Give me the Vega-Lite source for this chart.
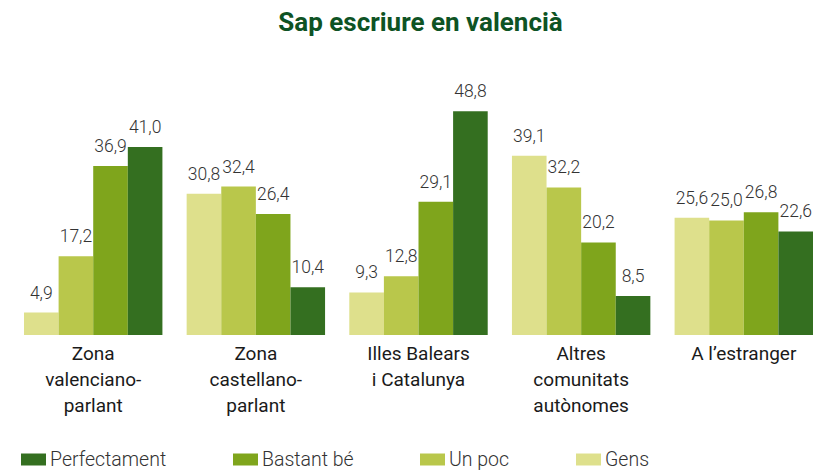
{
  "$schema": "https://vega.github.io/schema/vega-lite/v6.json",
  "width": 821,
  "height": 275,
  "autosize": {"type": "none"},
  "padding": {"left": 0, "right": 0, "top": 60, "bottom": 135},
  "title": {
    "text": "Sap escriure en valencià",
    "font": "Roboto",
    "fontSize": 26,
    "fontWeight": "bold",
    "color": "#0E5324",
    "anchor": "middle",
    "offset": 24,
    "dx": 10
  },
  "config": {
    "locale": {"number": {"decimal": ",", "thousands": ".", "grouping": [3], "currency": ["", " €"]}},
    "view": {"stroke": null},
    "font": "Roboto"
  },
  "data": {
    "values": [
      {"region": "Zona|valenciano-|parlant", "level": "Gens", "value": 4.9},
      {"region": "Zona|valenciano-|parlant", "level": "Un poc", "value": 17.2},
      {"region": "Zona|valenciano-|parlant", "level": "Bastant bé", "value": 36.9},
      {"region": "Zona|valenciano-|parlant", "level": "Perfectament", "value": 41.0},
      {"region": "Zona|castellano-|parlant", "level": "Gens", "value": 30.8},
      {"region": "Zona|castellano-|parlant", "level": "Un poc", "value": 32.4},
      {"region": "Zona|castellano-|parlant", "level": "Bastant bé", "value": 26.4},
      {"region": "Zona|castellano-|parlant", "level": "Perfectament", "value": 10.4},
      {"region": "Illes Balears|i Catalunya", "level": "Gens", "value": 9.3},
      {"region": "Illes Balears|i Catalunya", "level": "Un poc", "value": 12.8},
      {"region": "Illes Balears|i Catalunya", "level": "Bastant bé", "value": 29.1},
      {"region": "Illes Balears|i Catalunya", "level": "Perfectament", "value": 48.8},
      {"region": "Altres|comunitats|autònomes", "level": "Gens", "value": 39.1},
      {"region": "Altres|comunitats|autònomes", "level": "Un poc", "value": 32.2},
      {"region": "Altres|comunitats|autònomes", "level": "Bastant bé", "value": 20.2},
      {"region": "Altres|comunitats|autònomes", "level": "Perfectament", "value": 8.5},
      {"region": "A l’estranger", "level": "Gens", "value": 25.6},
      {"region": "A l’estranger", "level": "Un poc", "value": 25.0},
      {"region": "A l’estranger", "level": "Bastant bé", "value": 26.8},
      {"region": "A l’estranger", "level": "Perfectament", "value": 22.6}
    ]
  },
  "encoding": {
    "x": {
      "field": "region",
      "type": "nominal",
      "sort": ["Zona|valenciano-|parlant", "Zona|castellano-|parlant", "Illes Balears|i Catalunya", "Altres|comunitats|autònomes", "A l’estranger"],
      "scale": {"paddingInner": 0.149, "paddingOuter": 0.0984, "align": 0.75},
      "axis": {
        "title": null,
        "domain": false,
        "ticks": false,
        "labelAngle": 0,
        "labelExpr": "split(datum.label, '|')",
        "labelFont": "Roboto",
        "labelFontSize": 19,
        "labelColor": "#1a1a1a",
        "labelPadding": 9,
        "labelLineHeight": 26,
        "labelBaseline": "top"
      }
    },
    "xOffset": {
      "field": "level",
      "type": "nominal",
      "sort": ["Gens", "Un poc", "Bastant bé", "Perfectament"],
      "scale": {"paddingInner": 0, "paddingOuter": 0}
    },
    "y": {
      "field": "value",
      "type": "quantitative",
      "scale": {"domain": [0, 60]},
      "axis": null
    }
  },
  "layer": [
    {
      "mark": {"type": "bar"},
      "encoding": {
        "color": {
          "field": "level",
          "type": "nominal",
          "scale": {
            "domain": ["Gens", "Un poc", "Bastant bé", "Perfectament"],
            "range": ["#DEE08C", "#B9C74B", "#7FA51C", "#346F20"]
          },
          "legend": {
            "title": null,
            "orient": "none",
            "legendX": 21,
            "legendY": 387,
            "direction": "horizontal",
            "values": ["Perfectament", "Bastant bé", "Un poc", "Gens"],
            "symbolType": "M-1,-0.48H1V0.48H-1Z",
            "symbolSize": 625,
            "symbolStrokeWidth": 0,
            "symbolOpacity": 1,
            "labelFont": "Roboto",
            "labelFontSize": 19.5,
            "labelFontWeight": 300,
            "labelColor": "#333333",
            "labelOffset": 4,
            "columnPadding": 66
          }
        }
      }
    },
    {
      "mark": {"type": "text", "baseline": "middle", "dy": -19, "fontSize": 17.5, "fontWeight": 300, "color": "#333333", "font": "Roboto"},
      "encoding": {
        "text": {"field": "value", "type": "quantitative", "format": ".1f"}
      }
    }
  ]
}
